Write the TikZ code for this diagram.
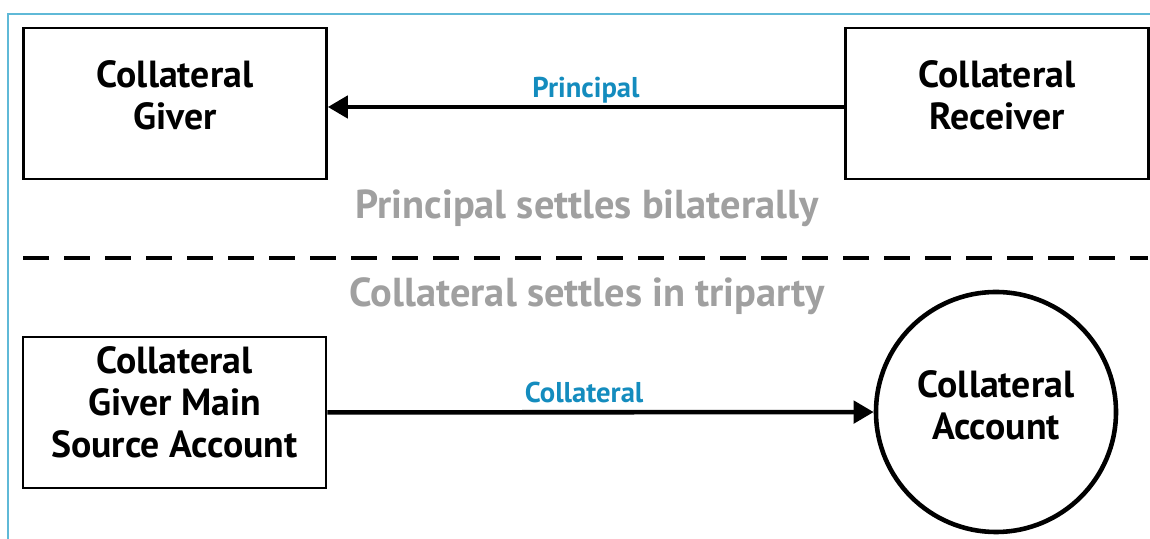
\documentclass[tikz,border=0pt]{standalone}
\usepackage{fontspec}
\setmainfont{PT Sans}
\usetikzlibrary{arrows.meta}
\definecolor{labelblue}{RGB}{20,140,190}
\definecolor{notegray}{RGB}{160,160,160}
\definecolor{frameblue}{RGB}{95,185,215}
\begin{document}
\begin{tikzpicture}[line width=1.5pt, >={Triangle[length=0.4cm,width=0.44cm]},
    party/.style={draw, rectangle, minimum width=6.06cm, minimum height=3.02cm, align=center,
        text depth=0.33cm, font=\fontsize{21.5}{24}\selectfont\bfseries},
    account/.style={draw, circle, line width=2.6pt, minimum size=4.8cm, align=center,
        text depth=0.28cm, font=\fontsize{21.5}{24}\selectfont\bfseries},
    flow/.style={text=labelblue, inner sep=4pt, text depth=0pt,
        font=\fontsize{16.3}{18}\selectfont\bfseries},
    note/.style={text=notegray, font=\fontsize{23}{26}\selectfont\bfseries}]

    \useasboundingbox (0, 0) rectangle (23, -10.78);
    \draw[frameblue, line width=0.8pt] (0.16, -10.78) |- (23, -0.28);

    % Nodes
    \node at (3.5, -2.07) (giver) [party] {Collateral\\Giver};
    \node at (19.94, -2.07) (receiver) [party] {Collateral\\Receiver};

    \node at (3.49, -8.25) (source) [party, text depth=0.42cm] {Collateral\\Giver Main\\Source Account};
    \node at (19.92, -8.24) (acct) [account] {Collateral\\Account};

    \node at (11.74, -4.16) (bilat) [note] {Principal settles bilaterally};
    \node at (11.74, -5.92) (tri) [note] {Collateral settles in triparty};

    % Dividing line
    \coordinate (divL) at (0.46, -5.16);
    \coordinate (divR) at (22.96, -5.16);
    \draw[line width=2.4pt, dash pattern=on 0.52cm off 0.3cm] (divL) -- (divR);

    % Arrows
    \draw[->, line width=2.6pt] ([yshift=-0.07cm]receiver.west) -- node[flow, above] {Principal} ([yshift=-0.07cm]giver.east);
    \draw[->, line width=2.6pt] (source) -- node[flow, above, pos=0.47] {Collateral} (acct);

\end{tikzpicture}
\end{document}
